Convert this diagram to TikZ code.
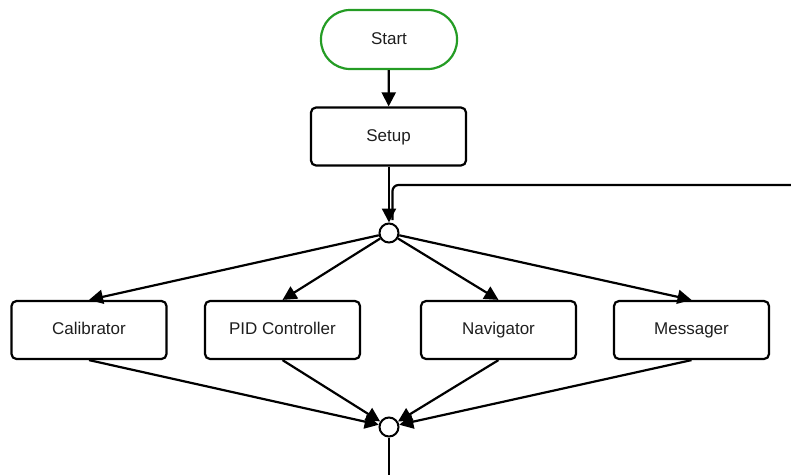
\documentclass[tikz,border=0pt]{standalone}
\usepackage{fontspec}
\setmainfont{Liberation Sans}
\usetikzlibrary{arrows.meta}
\definecolor{startgreen}{RGB}{36,156,36}
\definecolor{txt}{RGB}{30,30,30}
\begin{document}
\begin{tikzpicture}[x=1pt,y=-1pt,
  every node/.style={font=\fontsize{17}{20}\selectfont, text=txt,
    text height=12.5pt, text depth=3.5pt},
  stepbox/.style={draw=black, line width=2.2pt, rounded corners=5pt,
    minimum width=155pt, minimum height=58pt, inner sep=0pt},
  terminal/.style={draw=startgreen, line width=2.2pt, rounded corners=29pt,
    minimum width=136pt, minimum height=59pt, inner sep=0pt},
  junction/.style={draw=black, line width=2pt, circle, fill=white,
    minimum size=19pt, inner sep=0pt, text height=0pt, text depth=0pt},
  flow/.style={line width=2.2pt, -{Triangle[length=14pt,width=14pt]}},
  plain/.style={line width=2.2pt}
]
\useasboundingbox (0,0) rectangle (791,474);

% nodes
\node[terminal] (start) at (389,39.5) {Start};
\node[stepbox] (setup) at (388.5,136.5) {Setup};
\node[junction] (fork) at (389,233) {};
\node[stepbox] (cal) at (89,330) {Calibrator};
\node[stepbox] (pid) at (282.5,330) {PID Controller};
\node[stepbox] (nav) at (498.5,330) {Navigator};
\node[stepbox] (msg) at (691.5,330) {Messager};
\node[junction] (join) at (389,427) {};
\coordinate (loopin) at (792,185);
\coordinate (exit) at (389,476);

% connectors
\draw[flow] (start) -- (setup);
\draw[plain, rounded corners=6pt] (loopin) -- (392.5,185) -- (392.5,220);
\draw[flow] (setup.south -| fork) -- (fork);
\foreach \b in {cal,pid,nav,msg}{
  \draw[flow] (fork) -- (\b.north);
  \draw[flow] (\b.south) -- (join);
}
\draw[plain] (join) -- (exit);
\end{tikzpicture}
\end{document}
